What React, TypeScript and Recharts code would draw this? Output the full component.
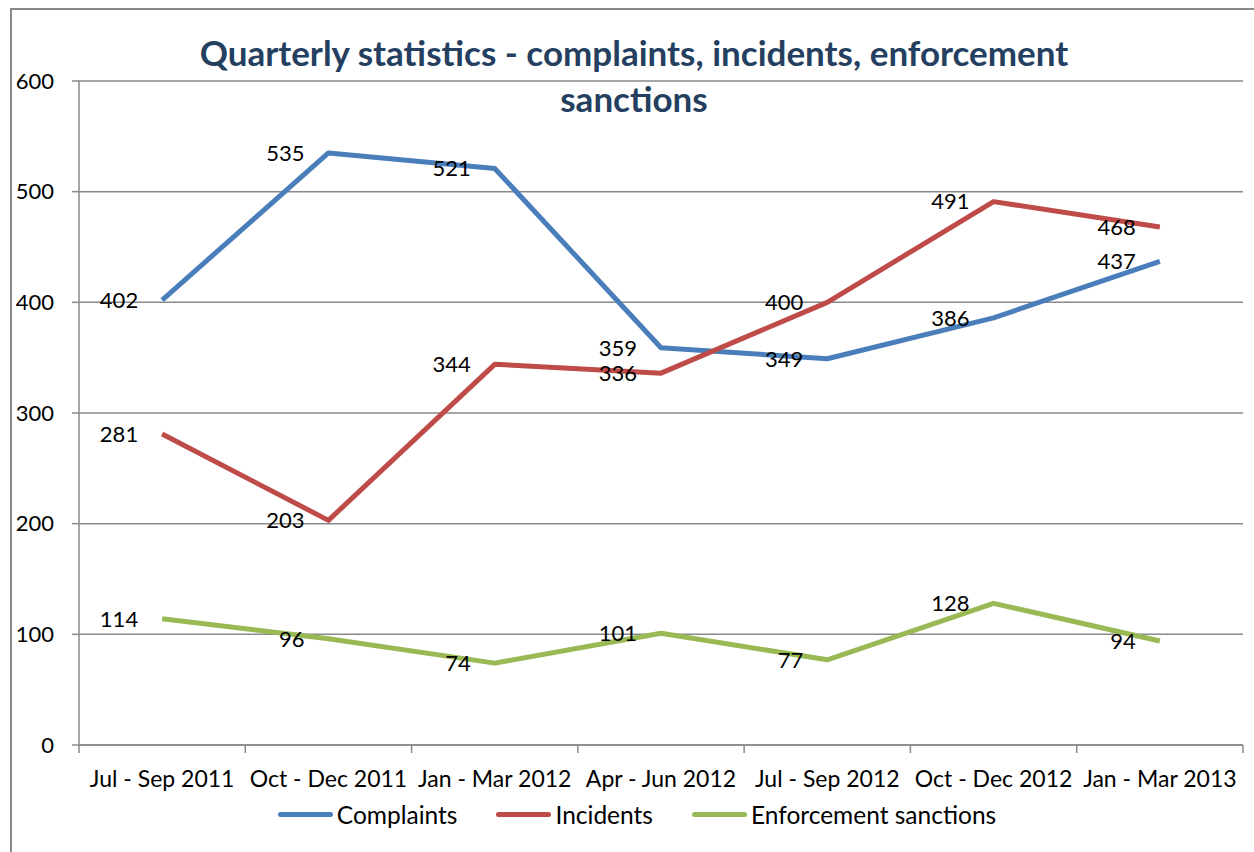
import React from 'react';
import { LineChart, Line, XAxis, YAxis, CartesianGrid, Legend, LabelList } from 'recharts';

const quarters = [
  'Jul - Sep 2011',
  'Oct - Dec 2011',
  'Jan - Mar 2012',
  'Apr - Jun 2012',
  'Jul - Sep 2012',
  'Oct - Dec 2012',
  'Jan - Mar 2013',
];
const complaints = [402, 535, 521, 359, 349, 386, 437];
const incidents = [281, 203, 344, 336, 400, 491, 468];
const sanctions = [114, 96, 74, 101, 77, 128, 94];
const yTicks = [0, 100, 200, 300, 400, 500, 600];

const data = quarters.map((quarter, i) => ({
  quarter,
  complaints: complaints[i],
  incidents: incidents[i],
  sanctions: sanctions[i],
}));

const series = [
  { key: 'complaints', name: 'Complaints', color: '#4A7EBB' },
  { key: 'incidents', name: 'Incidents', color: '#BE4B48' },
  { key: 'sanctions', name: 'Enforcement sanctions', color: '#98B954' },
];

const FONT = 'Lato, "Open Sans", sans-serif';
const GRID = '#898989';
const TICK_MARGIN = 26;

// category label in the middle, Excel-style tick marks on the band edges
const QuarterTick = (props: any) => {
  const { x, y, payload, index, visibleTicksCount, width } = props;
  const half = payload && payload.offset ? payload.offset : width / visibleTicksCount / 2;
  const axisY = y - TICK_MARGIN;
  return (
    <g>
      <line x1={x - half} x2={x - half} y1={axisY} y2={axisY + 8} stroke={GRID} strokeWidth={1.5} />
      {index === visibleTicksCount - 1 && (
        <line x1={x + half} x2={x + half} y1={axisY} y2={axisY + 8} stroke={GRID} strokeWidth={1.5} />
      )}
      <text x={x} y={y} dy="0.71em" textAnchor="middle" fill="#000" fontSize={23} fontFamily={FONT}>
        {payload.value}
      </text>
    </g>
  );
};

const renderLegend = () => (
  <div style={{ display: 'flex', justifyContent: 'center', alignItems: 'center', fontFamily: FONT, fontSize: 24.5, color: '#000' }}>
    {series.map((s, i) => (
      <div key={s.key} style={{ display: 'flex', alignItems: 'center', marginRight: i < series.length - 1 ? 39 : 0 }}>
        <span style={{ display: 'inline-block', width: 55, height: 5, borderRadius: 3, background: s.color, marginRight: 4 }} />
        <span>{s.name}</span>
      </div>
    ))}
  </div>
);

const App: React.FC = () => {
  return (
    <div style={{ position: 'absolute', left: 0, top: 0, width: 1254, height: 852, background: '#fff', overflow: 'hidden' }}>
      <div style={{ position: 'absolute', left: 10, top: 8, right: 0, bottom: 0, borderLeft: `2px solid ${GRID}`, borderTop: `2px solid ${GRID}` }} />
      <div
        style={{
          position: 'absolute',
          left: 0,
          top: 29,
          width: 1268,
          textAlign: 'center',
          fontFamily: FONT,
          fontWeight: 700,
          fontSize: 35,
          lineHeight: '46px',
          color: '#253F61',
        }}
      >
        Quarterly statistics - complaints, incidents, enforcement
        <br />
        sanctions
      </div>
      <LineChart
        width={1254}
        height={852}
        data={data}
        margin={{ top: 81, right: 11, left: 10, bottom: 67 }}
        style={{ position: 'absolute', left: 0, top: 0 }}
      >
        <CartesianGrid vertical={false} stroke={GRID} strokeWidth={1.5} />
        <XAxis
          dataKey="quarter"
          scale="band"
          height={40}
          interval={0}
          tickLine={false}
          tickSize={0}
          tickMargin={TICK_MARGIN}
          axisLine={{ stroke: GRID, strokeWidth: 1.5 }}
          tick={<QuarterTick />}
        />
        <YAxis
          width={69}
          domain={[0, 600]}
          ticks={yTicks}
          tickSize={7}
          tickMargin={18}
          axisLine={{ stroke: GRID, strokeWidth: 1.5 }}
          tickLine={{ stroke: GRID, strokeWidth: 1.5 }}
          tick={{ fill: '#000', fontSize: 22, fontFamily: FONT }}
        />
        <Legend
          verticalAlign="middle"
          align="center"
          content={renderLegend}
          wrapperStyle={{ left: 0, top: 800, width: 1274 }}
        />
        {series.map((s) => (
          <Line
            key={s.key}
            type="linear"
            dataKey={s.key}
            name={s.name}
            stroke={s.color}
            strokeWidth={5}
            strokeLinejoin="round"
            dot={false}
            activeDot={false}
            isAnimationActive={false}
          >
            <LabelList dataKey={s.key} position="left" offset={24} fill="#000" fontSize={22} fontFamily={FONT} />
          </Line>
        ))}
      </LineChart>
    </div>
  );
};

export default App;
